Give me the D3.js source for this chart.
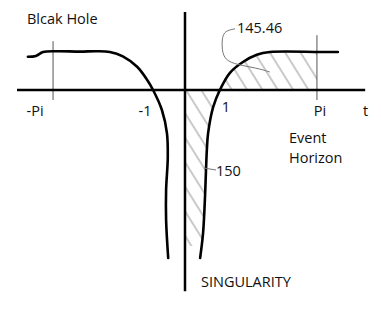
<!DOCTYPE html>
<html>
<head>
<meta charset="utf-8">
<script src="https://cdn.jsdelivr.net/npm/d3@7"></script>
<style>
  body { margin: 0; background: #fff; }
  text { font-family: "Open Sans", Lato, sans-serif; font-size: 14.5px; fill: #111; }
</style>
</head>
<body>
<svg id="sketch" width="381" height="320"></svg>
<script>
var svg = d3.select("#sketch")
var width = +svg.attr("width"), height = +svg.attr("height")

// Data (t along the horizontal axis, v up the vertical axis)
var PI = Math.PI
var leftCurve = [[-3.74,0.83],[-3.55,0.85],[-3.38,0.95],[-3.05,0.97],[-2.5,0.96],[-2.1,0.97],
    [-1.79,0.95],[-1.48,0.84],[-1.14,0.58],[-0.9,0.25],[-0.76,0],[-0.55,-0.5],[-0.43,-1.08],
    [-0.41,-1.68],[-0.45,-2.5],[-0.45,-3.25],[-0.4,-4.2]]
var rightCurve = [[0.36,-4.2],[0.43,-3.58],[0.48,-2.58],[0.5,-2.0],[0.52,-1.5],[0.55,-1.08],
    [0.67,-0.43],[0.83,0],[1.07,0.43],[1.38,0.7],[1.71,0.88],[2.02,0.95],[3.21,0.95],[3.64,0.95]]
var tickValues = [-PI, -1, 1, PI, 4.3]
var tickLabels = ["-Pi", "-1", "1", "Pi", "t"]
var piMarks = [-PI, PI]
var axisX = [-4, 4.29], axisV = [1.95, -5.03]
var hatchBottom = -3.9
var notes = ["Blcak Hole", "145.46", "150", "Event", "Horizon", "SINGULARITY"]
var leader145 = [[1.19,1.53],[0.95,1.48],[0.88,1.3],[0.88,1.0],[0.95,0.75],[1.24,0.63],[1.71,0.55],[2.02,0.45]]
var leader150 = [[0.74,-2.0],[0.45,-1.95]]

// Scales
var x = d3.scaleLinear().domain([-4, 4]).range([17, 353])
var y = d3.scaleLinear().domain([-5, 2]).range([290, 10])

var curve = d3.line().x(d => x(d[0])).y(d => y(d[1])).curve(d3.curveCatmullRom.alpha(0.5))

// hatch pattern
var defs = svg.append("defs")
var pat = defs.append("pattern").attr("id", "hatch")
    .attr("patternUnits", "userSpaceOnUse").attr("width", 13).attr("height", 13)
    .attr("patternTransform", "rotate(-32)")
pat.append("path").attr("d", "M6,0 L6,13").attr("stroke", "#777").attr("stroke-width", 0.8)
defs.append("clipPath").attr("id", "hatchClip").append("rect")
    .attr("x", x(0)).attr("y", y(1.5))
    .attr("width", x(PI) - x(0)).attr("height", y(hatchBottom) - y(1.5))

// region between the right curve and the axes
var last = rightCurve[rightCurve.length-1]
var regionPath = "M" + x(0) + "," + y(rightCurve[0][1]) + curve(rightCurve).replace(/^M/, "L")
    + "L" + x(last[0]) + "," + y(0) + "L" + x(0) + "," + y(0) + "Z"
svg.append("path").attr("d", regionPath)
    .attr("fill", "url(#hatch)").attr("stroke", "none")
    .attr("clip-path", "url(#hatchClip)")

// thin marks at +-Pi
svg.selectAll(".pimark").data(piMarks).enter().append("line")
    .attr("x1", d => x(d)).attr("x2", d => x(d))
    .attr("y1", d => y(d < 0 ? 1.22 : 1.37)).attr("y2", y(-0.25))
    .attr("stroke", "#555").attr("stroke-width", 1)

// axes
svg.append("line").attr("x1", x(axisX[0])).attr("x2", x(axisX[1]))
    .attr("y1", y(0)).attr("y2", y(0))
    .attr("stroke", "#000").attr("stroke-width", 2.5)
svg.append("line").attr("x1", x(0)).attr("x2", x(0))
    .attr("y1", y(axisV[0])).attr("y2", y(axisV[1]))
    .attr("stroke", "#000").attr("stroke-width", 2.5)

// curves
svg.selectAll(".curve").data([leftCurve, rightCurve]).enter().append("path")
    .attr("d", curve).attr("fill", "none")
    .attr("stroke", "#000").attr("stroke-width", 2.6).attr("stroke-linecap", "round")

// leaders
var leader = d3.line().x(d => x(d[0])).y(d => y(d[1])).curve(d3.curveBasis)
svg.selectAll(".leader").data([leader145, leader150]).enter().append("path")
    .attr("d", leader).attr("fill", "none").attr("stroke", "#777").attr("stroke-width", 1)

// tick labels
var nudge = {"-Pi": -18, "-1": 2, "1": -1, "Pi": 3, "t": 0}
svg.selectAll(".tick").data(tickValues).enter().append("text")
    .attr("x", (d, i) => x(d) + nudge[tickLabels[i]])
    .attr("y", (d, i) => tickLabels[i] == "1" ? 112 : 116)
    .attr("text-anchor", "middle")
    .text((d, i) => tickLabels[i])

// notes
var notePos = [[27,24],[237,33],[216,176],[289,143],[289,163],[201,287]]
svg.selectAll(".note").data(notes).enter().append("text")
    .attr("x", (d, i) => notePos[i][0]).attr("y", (d, i) => notePos[i][1])
    .text(d => d)
</script>
</body>
</html>
